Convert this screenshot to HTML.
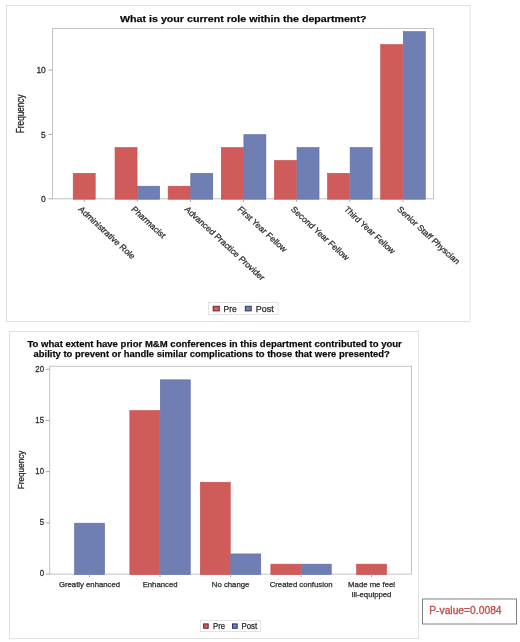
<!DOCTYPE html>
<html><head><meta charset="utf-8"><style>
html,body{margin:0;padding:0;background:#fff;}
body{width:520px;height:642px;overflow:hidden;}
svg{display:block;will-change:transform;filter:blur(0.3px);font-family:"Liberation Sans",sans-serif;}
text{fill:#2a2a2a;stroke:#2a2a2a;stroke-width:0.25px;}
</style></head><body>
<svg width="520" height="642" viewBox="0 0 520 642">
<rect x="0" y="0" width="520" height="642" fill="#fff"/>
<!-- chart 1 -->
<rect x="6.5" y="5.5" width="463.5" height="316" fill="#fff" stroke="#e0e0e0" stroke-width="1"/>
<text x="120" y="22" font-size="9.8" font-weight="bold" textLength="246.5" lengthAdjust="spacingAndGlyphs" style="fill:#000">What is your current role within the department?</text>
<rect x="52.5" y="28.5" width="381.0" height="170.3" fill="none" stroke="#c4c4c4" stroke-width="1"/>
<rect x="73.20" y="173.34" width="22.00" height="25.86" fill="#d05b5b" stroke="#c24c4c" stroke-width="0.6"/>
<rect x="115.03" y="147.58" width="22.00" height="51.62" fill="#d05b5b" stroke="#c24c4c" stroke-width="0.6"/>
<rect x="137.63" y="186.22" width="22.00" height="12.98" fill="#6f7eb3" stroke="#5b68a0" stroke-width="0.6"/>
<rect x="168.16" y="186.22" width="22.00" height="12.98" fill="#d05b5b" stroke="#c24c4c" stroke-width="0.6"/>
<rect x="190.76" y="173.34" width="22.00" height="25.86" fill="#6f7eb3" stroke="#5b68a0" stroke-width="0.6"/>
<rect x="221.29" y="147.58" width="22.00" height="51.62" fill="#d05b5b" stroke="#c24c4c" stroke-width="0.6"/>
<rect x="243.89" y="134.70" width="22.00" height="64.50" fill="#6f7eb3" stroke="#5b68a0" stroke-width="0.6"/>
<rect x="274.42" y="160.46" width="22.00" height="38.74" fill="#d05b5b" stroke="#c24c4c" stroke-width="0.6"/>
<rect x="297.02" y="147.58" width="22.00" height="51.62" fill="#6f7eb3" stroke="#5b68a0" stroke-width="0.6"/>
<rect x="327.55" y="173.34" width="22.00" height="25.86" fill="#d05b5b" stroke="#c24c4c" stroke-width="0.6"/>
<rect x="350.15" y="147.58" width="22.00" height="51.62" fill="#6f7eb3" stroke="#5b68a0" stroke-width="0.6"/>
<rect x="380.68" y="44.54" width="22.00" height="154.66" fill="#d05b5b" stroke="#c24c4c" stroke-width="0.6"/>
<rect x="403.28" y="31.66" width="22.00" height="167.54" fill="#6f7eb3" stroke="#5b68a0" stroke-width="0.6"/>
<line x1="48.5" y1="198.8" x2="52.5" y2="198.8" stroke="#a8a8a8" stroke-width="1"/>
<text transform="translate(45.8,202.0) scale(0.96,1)" text-anchor="end" font-size="8.8">0</text>
<line x1="48.5" y1="134.4" x2="52.5" y2="134.4" stroke="#a8a8a8" stroke-width="1"/>
<text transform="translate(45.8,137.6) scale(0.96,1)" text-anchor="end" font-size="8.8">5</text>
<line x1="48.5" y1="70.0" x2="52.5" y2="70.0" stroke="#a8a8a8" stroke-width="1"/>
<text transform="translate(45.8,73.2) scale(0.96,1)" text-anchor="end" font-size="8.8">10</text>
<line x1="84.2" y1="198.8" x2="84.2" y2="201.8" stroke="#a8a8a8" stroke-width="1"/>
<line x1="137.3" y1="198.8" x2="137.3" y2="201.8" stroke="#a8a8a8" stroke-width="1"/>
<line x1="190.5" y1="198.8" x2="190.5" y2="201.8" stroke="#a8a8a8" stroke-width="1"/>
<line x1="243.6" y1="198.8" x2="243.6" y2="201.8" stroke="#a8a8a8" stroke-width="1"/>
<line x1="296.7" y1="198.8" x2="296.7" y2="201.8" stroke="#a8a8a8" stroke-width="1"/>
<line x1="349.9" y1="198.8" x2="349.9" y2="201.8" stroke="#a8a8a8" stroke-width="1"/>
<line x1="403.0" y1="198.8" x2="403.0" y2="201.8" stroke="#a8a8a8" stroke-width="1"/>
<text transform="translate(23.8,113.8) scale(1.22,1) rotate(-90)" text-anchor="middle" font-size="8.2">Frequency</text>
<text transform="translate(77.7,209.8) scale(1.09,1) rotate(45)" font-size="8.15">Administrative Role</text>
<text transform="translate(130.8,209.8) scale(1.09,1) rotate(45)" font-size="8.15">Pharmacist</text>
<text transform="translate(184.0,209.8) scale(1.09,1) rotate(45)" font-size="8.15">Advanced Practice Provider</text>
<text transform="translate(237.1,209.8) scale(1.09,1) rotate(45)" font-size="8.15">First Year Fellow</text>
<text transform="translate(290.2,209.8) scale(1.09,1) rotate(45)" font-size="8.15">Second Year Fellow</text>
<text transform="translate(343.4,209.8) scale(1.09,1) rotate(45)" font-size="8.15">Third Year Fellow</text>
<text transform="translate(396.5,209.8) scale(1.09,1) rotate(45)" font-size="8.15">Senior Staff Physcian</text>
<rect x="208.5" y="302.5" width="69.5" height="12" fill="#fff" stroke="#e2e2e2"/>
<rect x="213.2" y="306.3" width="6.1" height="4.6" fill="#d05b5b" stroke="#6e2430" stroke-width="1"/>
<text x="223.6" y="311.6" font-size="8.7" textLength="13.2" lengthAdjust="spacingAndGlyphs">Pre</text>
<rect x="245.3" y="306.3" width="5.9" height="4.6" fill="#6f7eb3" stroke="#2c3763" stroke-width="1"/>
<text x="255.8" y="311.6" font-size="8.7" textLength="18.0" lengthAdjust="spacingAndGlyphs">Post</text>
<!-- chart 2 -->
<rect x="9.5" y="331.5" width="409" height="307" fill="#fff" stroke="#e0e0e0" stroke-width="1"/>
<text x="27.5" y="347.2" font-size="9.6" font-weight="bold" textLength="374.3" lengthAdjust="spacingAndGlyphs" style="fill:#000">To what extent have prior M&amp;M conferences in this department contributed to your</text>
<text x="33.6" y="357.3" font-size="9.6" font-weight="bold" textLength="356.2" lengthAdjust="spacingAndGlyphs" style="fill:#000">ability to prevent or handle similar complications to those that were presented?</text>
<rect x="49.7" y="366.3" width="361.8" height="207.8" fill="none" stroke="#c4c4c4" stroke-width="1"/>
<rect x="74.60" y="523.20" width="29.90" height="51.30" fill="#6f7eb3" stroke="#5b68a0" stroke-width="0.6"/>
<rect x="129.85" y="410.56" width="29.90" height="163.94" fill="#d05b5b" stroke="#c24c4c" stroke-width="0.6"/>
<rect x="160.35" y="379.84" width="29.90" height="194.66" fill="#6f7eb3" stroke="#5b68a0" stroke-width="0.6"/>
<rect x="200.35" y="482.24" width="29.90" height="92.26" fill="#d05b5b" stroke="#c24c4c" stroke-width="0.6"/>
<rect x="230.85" y="553.92" width="29.90" height="20.58" fill="#6f7eb3" stroke="#5b68a0" stroke-width="0.6"/>
<rect x="270.85" y="564.16" width="29.90" height="10.34" fill="#d05b5b" stroke="#c24c4c" stroke-width="0.6"/>
<rect x="301.35" y="564.16" width="29.90" height="10.34" fill="#6f7eb3" stroke="#5b68a0" stroke-width="0.6"/>
<rect x="356.60" y="564.16" width="29.90" height="10.34" fill="#d05b5b" stroke="#c24c4c" stroke-width="0.6"/>
<line x1="45.7" y1="574.1" x2="49.7" y2="574.1" stroke="#a8a8a8" stroke-width="1"/>
<text transform="translate(44,576.4) scale(0.95,1)" text-anchor="end" font-size="8.2">0</text>
<line x1="45.7" y1="522.9" x2="49.7" y2="522.9" stroke="#a8a8a8" stroke-width="1"/>
<text transform="translate(44,525.2) scale(0.95,1)" text-anchor="end" font-size="8.2">5</text>
<line x1="45.7" y1="471.7" x2="49.7" y2="471.7" stroke="#a8a8a8" stroke-width="1"/>
<text transform="translate(44,474.0) scale(0.95,1)" text-anchor="end" font-size="8.2">10</text>
<line x1="45.7" y1="420.5" x2="49.7" y2="420.5" stroke="#a8a8a8" stroke-width="1"/>
<text transform="translate(44,422.8) scale(0.95,1)" text-anchor="end" font-size="8.2">15</text>
<line x1="45.7" y1="369.3" x2="49.7" y2="369.3" stroke="#a8a8a8" stroke-width="1"/>
<text transform="translate(44,371.6) scale(0.95,1)" text-anchor="end" font-size="8.2">20</text>
<line x1="89.5" y1="574.1" x2="89.5" y2="577.1" stroke="#a8a8a8" stroke-width="1"/>
<line x1="160.1" y1="574.1" x2="160.1" y2="577.1" stroke="#a8a8a8" stroke-width="1"/>
<line x1="230.6" y1="574.1" x2="230.6" y2="577.1" stroke="#a8a8a8" stroke-width="1"/>
<line x1="301.1" y1="574.1" x2="301.1" y2="577.1" stroke="#a8a8a8" stroke-width="1"/>
<line x1="371.6" y1="574.1" x2="371.6" y2="577.1" stroke="#a8a8a8" stroke-width="1"/>
<text transform="translate(24.3,469.9) scale(1.18,1) rotate(-90)" text-anchor="middle" font-size="8.2">Frequency</text>
<text x="89.5" y="587.4" text-anchor="middle" font-size="7.75">Greatly enhanced</text>
<text x="160.1" y="587.4" text-anchor="middle" font-size="7.75">Enhanced</text>
<text x="230.6" y="587.4" text-anchor="middle" font-size="7.75">No change</text>
<text x="301.1" y="587.4" text-anchor="middle" font-size="7.75">Created confusion</text>
<text x="371.6" y="587.4" text-anchor="middle" font-size="7.75">Made me feel</text>
<text x="371.6" y="597.0" text-anchor="middle" font-size="7.75">ill-equipped</text>
<rect x="200.5" y="620.5" width="60" height="11" fill="#fff" stroke="#e2e2e2"/>
<rect x="203.6" y="623.9" width="4.6" height="4.4" fill="#d05b5b" stroke="#6e2430" stroke-width="1"/>
<text x="213" y="629.2" font-size="8.3" textLength="12" lengthAdjust="spacingAndGlyphs">Pre</text>
<rect x="232.5" y="623.9" width="4.7" height="4.4" fill="#6f7eb3" stroke="#2c3763" stroke-width="1"/>
<text x="241.5" y="629.2" font-size="8.3" textLength="15.7" lengthAdjust="spacingAndGlyphs">Post</text>
<!-- p value -->
<rect x="422.5" y="599" width="94" height="25" fill="#fff" stroke="#808080" stroke-width="1"/>
<text x="429.2" y="613.8" font-size="10.4" textLength="72.4" lengthAdjust="spacingAndGlyphs" style="fill:#c2504d;stroke:#c2504d;stroke-width:0.35px">P-value=0.0084</text>
</svg>
</body></html>
